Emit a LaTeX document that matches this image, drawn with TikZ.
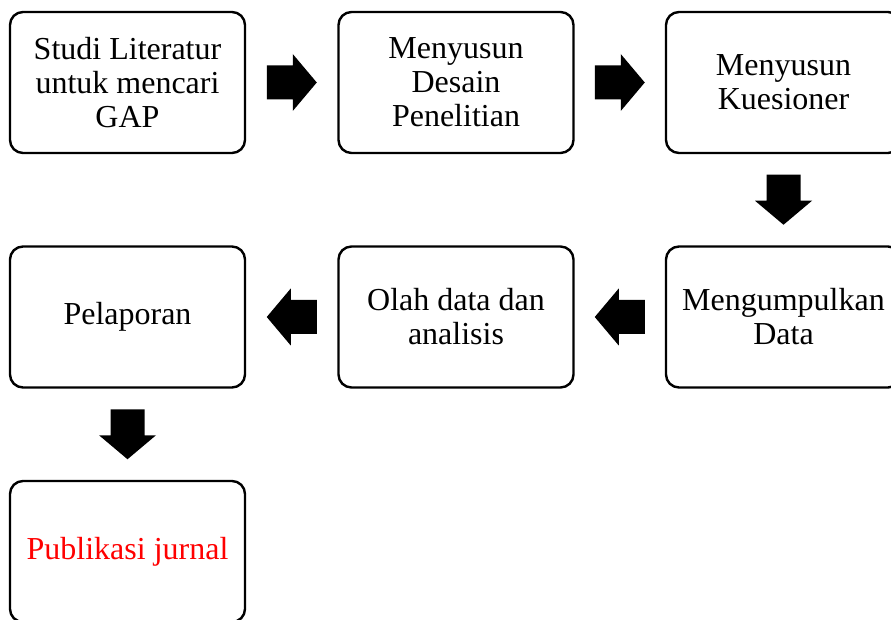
\documentclass[tikz,border=0pt]{standalone}
\usepackage{fontspec}
\setmainfont{Liberation Serif}
\usetikzlibrary{calc}
\begin{document}
\begin{tikzpicture}[x=1pt,y=1pt,
  stepbox/.style={draw=black, line width=2.4pt, rounded corners=13pt,
    minimum width=235pt, minimum height=141pt, align=center, inner sep=0pt,
    font=\fontsize{32}{34}\selectfont},
  barrow/.pic={\fill[black] (-25,-17) -- (1,-17) -- (1,-28.5) -- (25,0) -- (1,28.5) -- (1,17) -- (-25,17) -- cycle;}]
\useasboundingbox (0,0) rectangle (891,619);
\node[stepbox] (a) at (127.5,536.5) {Studi Literatur\\untuk mencari\\GAP};
\node[stepbox] (b) at (456,536.5) {Menyusun\\Desain\\Penelitian};
\node[stepbox] (c) at (783.5,536.5) {Menyusun\\Kuesioner};
\node[stepbox] (d) at (783.5,302) {Mengumpulkan\\Data};
\node[stepbox] (e) at (456,302) {Olah data dan\\analisis};
\node[stepbox] (f) at (127.5,302) {Pelaporan};
\node[stepbox, text=red] (g) at (127.5,67.5) {Publikasi jurnal};
\coordinate (ab) at ($(a.east)!0.5!(b.west)$);
\coordinate (bc) at ($(b.east)!0.5!(c.west)$);
\coordinate (cd) at ($(c.south)!0.5!(d.north)$);
\coordinate (de) at ($(d.west)!0.5!(e.east)$);
\coordinate (ef) at ($(e.west)!0.5!(f.east)$);
\coordinate (fg) at ($(f.south)!0.5!(g.north)$);
\pic at (ab) {barrow};
\pic at (bc) {barrow};
\pic[rotate=-90] at (cd) {barrow};
\pic[rotate=180] at (de) {barrow};
\pic[rotate=180] at (ef) {barrow};
\pic[rotate=-90] at (fg) {barrow};
\end{tikzpicture}
\end{document}
